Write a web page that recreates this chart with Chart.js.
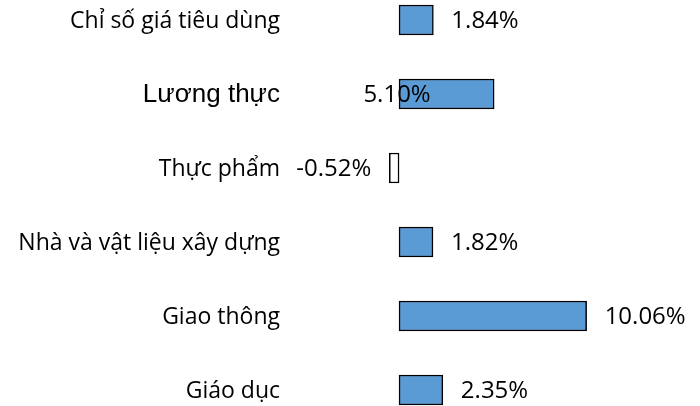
<!DOCTYPE html>
<html>
<head>
<meta charset="utf-8">
<script src="https://cdn.jsdelivr.net/npm/chart.js@4"></script>
<style>
  html, body { margin: 0; padding: 0; background: #fff; }
  #wrap { width: 700px; height: 406px; }
</style>
</head>
<body>
<div id="wrap"><canvas id="cpiChart"></canvas></div>
<script>
// Chart data
const categories = ['Chỉ số giá tiêu dùng', 'Lương thực', 'Thực phẩm', 'Nhà và vật liệu xây dựng', 'Giao thông', 'Giáo dục'];
const changes = [1.84, 5.10, -0.52, 1.82, 10.06, 2.35];

const BAR_BLUE = '#5B9BD5';
const NAME_FONT = '23px "Open Sans"';
const VALUE_FONT = '24px "Open Sans"';
const ODD_FONT = '26px "Liberation Sans"'; // "Lương thực" row uses a different font
const ODD_ROW = 1;

// Draw category names and value labels next to each bar
const labelPlugin = {
    id: 'barLabels',
    afterDatasetsDraw(chart) {
        const ctx = chart.ctx;
        const yScale = chart.scales.y;
        const xScale = chart.scales.x;
        const zero = xScale.getPixelForValue(0);
        ctx.save();
        ctx.fillStyle = '#000';
        ctx.textBaseline = 'middle';

        categories.forEach((name, i) => {
            const y = yScale.getPixelForValue(i);
            ctx.font = i === ODD_ROW ? ODD_FONT : NAME_FONT;
            ctx.textAlign = 'right';
            ctx.fillText(name, 280, y + 1);
        });

        const meta = chart.getDatasetMeta(0);
        meta.data.forEach((bar, i) => {
            const v = changes[i];
            const text = v.toFixed(2) + '%';
            ctx.font = VALUE_FONT;
            if (i === ODD_ROW) {
                ctx.textAlign = 'center';
                ctx.fillText(text, zero - 2, bar.y + 1);
            } else if (v >= 0) {
                ctx.textAlign = 'left';
                ctx.fillText(text, bar.x + 18, bar.y + 1);
            } else {
                ctx.textAlign = 'right';
                ctx.fillText(text, bar.x - 18, bar.y + 1);
            }
        });
        ctx.restore();
    }
};

const ctx = document.getElementById('cpiChart').getContext('2d');
new Chart(ctx, {
    type: 'bar',
    data: {
        labels: categories,
        datasets: [{
            data: changes,
            backgroundColor: c => changes[c.dataIndex] < 0 ? '#ffffff' : BAR_BLUE,
            borderColor: '#000',
            borderWidth: 1.5,
            borderSkipped: false,
            barThickness: 30,
            clip: false
        }]
    },
    options: {
        indexAxis: 'y',
        responsive: true,
        maintainAspectRatio: false,
        animation: false,
        layout: { padding: { top: 20, bottom: 16, left: 0, right: 0 } },
        plugins: {
            legend: { display: false },
            tooltip: { enabled: false }
        },
        scales: {
            x: { display: false, min: -21.4, max: 16.14 },
            y: { display: false, offset: false }
        }
    },
    plugins: [labelPlugin]
});
</script>
</body>
</html>
